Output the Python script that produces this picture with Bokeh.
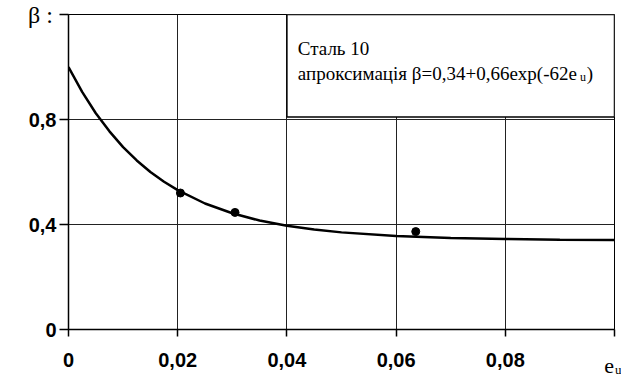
from bokeh.plotting import figure
from bokeh.models import Range1d, Label, FixedTicker
from bokeh.embed import file_html
from bokeh.resources import INLINE

# measured points
pts_x = [0.0205, 0.0305, 0.0636]
pts_y = [0.52, 0.446, 0.373]

# approximation curve
curve_x = [0.0, 0.0025, 0.005, 0.0075, 0.01, 0.0125, 0.015, 0.0175, 0.02, 0.025,
           0.03, 0.035, 0.04, 0.045, 0.05, 0.06, 0.07, 0.08, 0.09, 0.1]
curve_y = [1.0, 0.905, 0.824, 0.755, 0.695, 0.644, 0.600, 0.563, 0.531, 0.480,
           0.443, 0.415, 0.395, 0.381, 0.370, 0.356, 0.349, 0.345, 0.342, 0.341]

x_ticks = [0, 0.02, 0.04, 0.06, 0.08, 0.1]
x_labels = {0: "0", 0.02: "0,02", 0.04: "0,04", 0.06: "0,06", 0.08: "0,08", 0.1: ""}
y_ticks = [0, 0.4, 0.8, 1.2]
y_labels = {0: "0", 0.4: "0,4", 0.8: "0,8", 1.2: ""}

p = figure(width=621, height=375, output_backend="svg", toolbar_location=None,
           x_range=Range1d(0, 0.1), y_range=Range1d(0, 1.2),
           min_border_left=66, min_border_right=2, min_border_top=14, min_border_bottom=46)
p.background_fill_color = "white"
p.border_fill_color = "white"
p.outline_line_color = "black"
p.outline_line_width = 1

for ax in (p.xaxis[0], p.yaxis[0]):
    ax.axis_line_color = "black"
    ax.axis_line_width = 1.5
    ax.major_tick_line_color = "black"
    ax.major_tick_line_width = 1.5
    ax.minor_tick_line_color = None
    ax.major_tick_in = 0
    ax.major_label_text_font = "Liberation Sans"
    ax.major_label_text_font_style = "bold"
    ax.major_label_text_font_size = "20px"
    ax.major_label_text_color = "black"

p.xaxis.ticker = FixedTicker(ticks=x_ticks)
p.xaxis.major_label_overrides = x_labels
p.xaxis.major_tick_out = 7
p.xaxis.major_label_standoff = 16
p.yaxis.ticker = FixedTicker(ticks=y_ticks)
p.yaxis.major_label_overrides = y_labels
p.yaxis.major_tick_out = 9
p.yaxis.major_label_standoff = 3

p.xgrid.ticker = FixedTicker(ticks=x_ticks)
p.ygrid.ticker = FixedTicker(ticks=y_ticks)
for g in (p.xgrid[0], p.ygrid[0]):
    g.grid_line_color = "#222222"
    g.grid_line_width = 1

# annotation box
p.quad(left=[0.04], right=[0.1], bottom=[0.81], top=[1.2],
       fill_color="white", line_color="black", line_width=1.5)

p.line(curve_x, curve_y, line_color="black", line_width=2.5)
p.scatter(pts_x, pts_y, size=8, color="black")

serif = "Liberation Serif"
p.add_layout(Label(x=0.042, y=1.072, text="Сталь 10", text_font=serif,
                   text_font_size="19px", text_color="black", text_baseline="alphabetic"))
p.add_layout(Label(x=0.042, y=0.975, text="апроксимація β=0,34+0,66exp(-62e", text_font=serif,
                   text_font_size="19px", text_color="black", text_baseline="alphabetic"))
p.add_layout(Label(x=0.0937, y=0.963, text="u", text_font=serif,
                   text_font_size="12px", text_color="black", text_baseline="alphabetic"))
p.add_layout(Label(x=0.0949, y=0.975, text=")", text_font=serif,
                   text_font_size="19px", text_color="black", text_baseline="alphabetic"))

# labels outside the frame live in side panels so they are not clipped
p.add_layout(Label(x=-0.0074, y=1.2, text="β :", text_font=serif,
                   text_font_size="24px", text_color="black", text_baseline="middle"), "left")
p.add_layout(Label(x=0.0981, y=-0.14, text="e", text_font=serif,
                   text_font_size="22px", text_color="black", text_baseline="alphabetic"), "above")
p.add_layout(Label(x=0.1001, y=-0.153, text="u", text_font=serif,
                   text_font_size="13px", text_color="black", text_baseline="alphabetic"), "right")

open("out.html", "w").write(file_html(p, INLINE))
